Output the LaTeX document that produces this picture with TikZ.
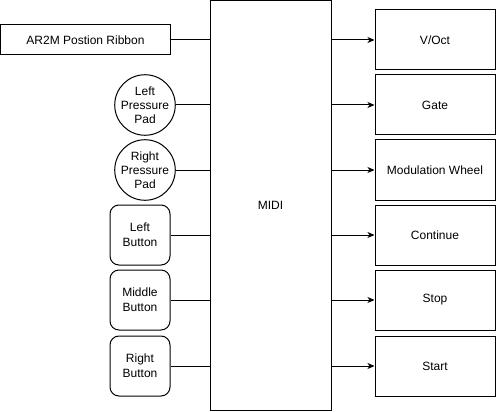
\documentclass[tikz,border=0pt]{standalone}
\usepackage{fontspec}
\setmainfont{Liberation Sans}
\usetikzlibrary{arrows.meta}

\tikzset{
  box/.style={draw,line width=1pt,minimum width=120pt,minimum height=60pt,inner sep=0pt},
  pad/.style={draw,circle,line width=1pt,minimum size=50pt,inner sep=0pt,align=center,
    font=\fontsize{12pt}{14pt}\selectfont},
  button/.style={draw,rounded corners=9pt,line width=1pt,minimum width=60pt,minimum height=60pt,
    inner sep=0pt,align=center,font=\fontsize{12pt}{15pt}\selectfont},
  wire/.style={line width=1pt},
  feed/.style={line width=1pt,-{Stealth[length=7pt,width=6pt,inset=2pt]}}
}

\begin{document}
\begin{tikzpicture}[x=1pt,y=-1pt,font=\fontsize{12pt}{14pt}\selectfont]
  \useasboundingbox (0,0) rectangle (496,412);

  \node[draw,line width=1pt,minimum width=121pt,minimum height=410pt,inner sep=0pt] (midi) at (270.5,205.5) {MIDI};

  % inputs
  \node[draw,line width=1pt,minimum width=170pt,minimum height=30pt,inner sep=0pt] (ribbon) at (85.5,40) {AR2M Postion Ribbon};
  \node[pad] (lpad) at (145,105) {Left\\Pressure\\Pad};
  \node[pad] (rpad) at (145,170) {Right\\Pressure\\Pad};
  \node[button] (lbtn) at (140,235) {Left\\Button};
  \node[button] (mbtn) at (140,300) {Middle\\Button};
  \node[button] (rbtn) at (140,366) {Right\\Button};

  \foreach \n in {ribbon,lpad,rpad,lbtn,mbtn,rbtn}
    \draw[wire] (\n.east) -- (midi.west |- \n.east);

  % outputs
  \node[box] (voct) at (435,40) {V/Oct};
  \node[box] (gate) at (435,105) {Gate};
  \node[box] (modw) at (435,170) {Modulation Wheel};
  \node[box] (cont) at (435,235) {Continue};
  \node[box] (stop) at (435,300) {Stop};
  \node[box] (start) at (435,366) {Start};

  \foreach \n in {voct,gate,modw,cont,stop,start}
    \draw[feed] (midi.east |- \n.west) -- (\n.west);
\end{tikzpicture}
\end{document}
